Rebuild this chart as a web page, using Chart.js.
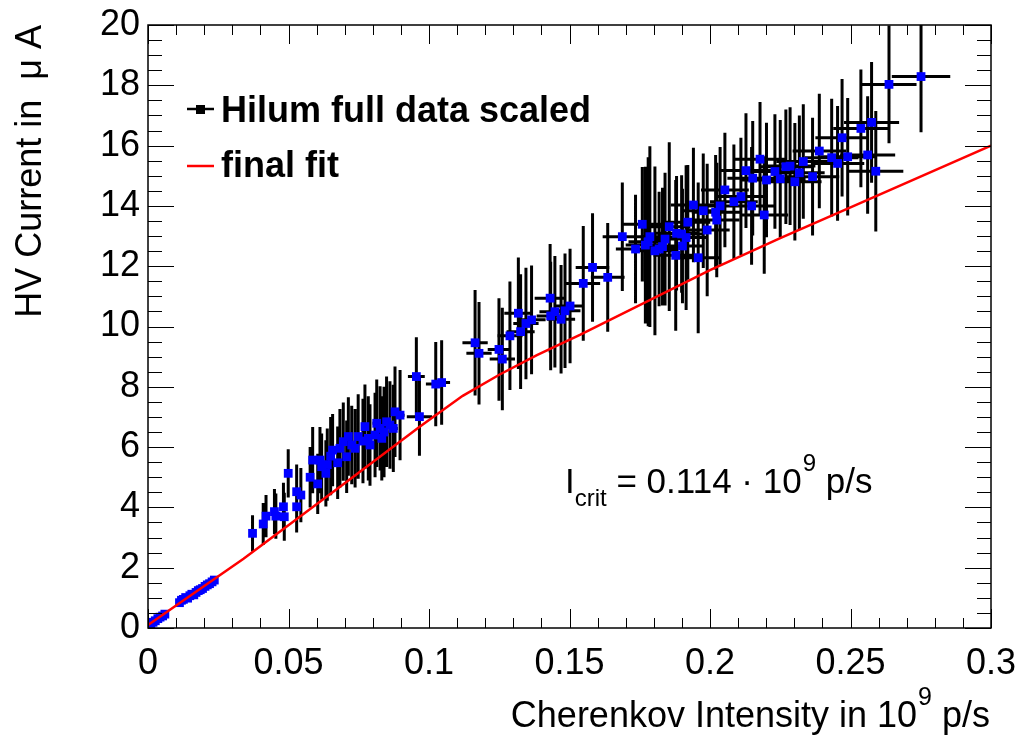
<!DOCTYPE html>
<html><head><meta charset="utf-8">
<script src="https://cdn.jsdelivr.net/npm/chart.js@4.4.1/dist/chart.umd.min.js"></script>
<style>html,body{margin:0;padding:0;background:#fff;}canvas{display:block;}</style>
</head><body>
<canvas id="c" width="1022" height="738"></canvas>
<script>
// ---- data ----
const xVals = [
 0.0010,0.0018,0.0026,0.0035,0.0043,0.0052,0.0060,
 0.0112,0.0119,0.0126,0.0134,0.0141,0.0149,0.0156,0.0163,0.0171,0.0179,0.0186,0.0194,0.0203,0.0211,0.0219,0.0228,0.0236,
 0.0372,0.0410,0.0420,0.0450,0.0455,0.0482,0.0485,0.0499,0.0529,0.0529,0.0544,0.0577,0.0586,0.0604,0.0612,0.0618,0.0633,0.0638,0.0657,0.0675,0.0683,0.0695,0.0707,0.0713,0.0725,0.0737,0.0748,0.0772,0.0784,0.0790,0.0808,0.0814,0.0826,0.0832,0.0849,0.0861,0.0873,0.0879,0.0897,0.0650,0.0765,0.0840,
 0.0955,0.0966,0.1024,0.1045,0.1164,0.1178,0.1249,0.1261,0.1288,0.1318,0.1326,0.1345,0.1365,0.1431,0.1433,0.1448,0.1470,0.1484,0.1502,0.1549,0.1582,0.1636,
 0.1688,0.1735,0.1759,0.1780,0.1786,0.1804,0.1819,0.1831,0.1855,0.1878,0.1881,0.1899,0.1902,0.1921,0.1941,0.1958,0.1976,0.2020,0.2024,0.2036,0.2053,0.2085,0.2110,0.2128,0.2148,0.2152,0.2178,0.2193,0.2201,0.2231,0.2250,0.2270,0.2285,0.2302,0.2318,0.2332,0.2365,0.2389,0.2433,0.2454,0.2470,0.2490,0.2537,0.2561,0.2575,0.2590,0.2637,0.2751,0.1770,0.1840,0.1915,0.1990
];
const yVals = [
 0.12,0.19,0.24,0.31,0.36,0.40,0.46,
 0.84,0.92,0.95,1.01,0.99,1.07,1.12,1.10,1.18,1.24,1.27,1.31,1.38,1.43,1.47,1.53,1.59,
 3.14,3.45,3.71,3.86,3.71,4.02,3.69,5.13,4.02,4.52,4.41,5.00,5.57,4.78,5.57,5.35,5.13,5.42,5.90,5.48,5.96,6.18,5.68,6.35,6.07,5.96,6.35,6.68,6.29,6.07,6.40,6.79,6.62,6.29,6.84,6.73,6.62,7.17,7.06,5.70,6.20,6.50,
 8.34,7.01,8.09,8.14,9.46,9.11,9.24,8.92,9.69,10.44,9.83,10.10,10.22,10.94,10.35,10.49,10.24,10.52,10.68,11.43,11.96,11.63,
 12.98,12.57,13.39,12.81,12.98,12.51,12.57,12.65,13.31,12.36,13.09,13.07,12.67,13.46,14.03,12.28,13.84,13.79,13.53,14.00,14.53,14.14,14.31,15.17,14.00,14.92,15.55,13.70,14.86,15.14,14.90,15.30,15.32,14.80,15.10,15.47,14.97,15.82,15.60,15.41,16.26,15.63,16.57,15.69,16.77,15.15,18.03,18.29,12.70,12.90,12.95,13.20
];
const xErrs = [
 0.0003,0.0003,0.0003,0.0003,0.0003,0.0003,0.0003,
 0.0005,0.0005,0.0005,0.0005,0.0005,0.0005,0.0005,0.0005,0.0005,0.0005,0.0005,0.0005,0.0005,0.0005,0.0005,0.0005,0.0005,
 0.0008,0.0008,0.0008,0.0009,0.0009,0.0009,0.0009,0.0010,0.0010,0.0010,0.0010,0.0010,0.0011,0.0011,0.0011,0.0011,0.0011,0.0012,0.0012,0.0012,0.0012,0.0012,0.0013,0.0013,0.0013,0.0013,0.0013,0.0014,0.0014,0.0014,0.0014,0.0015,0.0015,0.0015,0.0015,0.0016,0.0016,0.0016,0.0016,0.0012,0.0014,0.0015,
 0.0030,0.0045,0.0035,0.0030,0.0045,0.0045,0.0040,0.0045,0.0045,0.0050,0.0050,0.0045,0.0050,0.0055,0.0050,0.0055,0.0050,0.0055,0.0050,0.0060,0.0060,0.0060,
 0.0070,0.0070,0.0075,0.0070,0.0070,0.0075,0.0070,0.0075,0.0075,0.0080,0.0075,0.0080,0.0075,0.0080,0.0080,0.0080,0.0080,0.0085,0.0080,0.0085,0.0085,0.0085,0.0090,0.0090,0.0085,0.0090,0.0090,0.0085,0.0090,0.0090,0.0090,0.0090,0.0090,0.0095,0.0090,0.0095,0.0095,0.0095,0.0095,0.0095,0.0095,0.0095,0.0098,0.0098,0.0098,0.0098,0.0098,0.0104,0.0070,0.0075,0.0080,0.0080
];
const yErrs = [
 0.05,0.05,0.05,0.05,0.05,0.05,0.05,
 0.10,0.10,0.10,0.10,0.10,0.10,0.10,0.10,0.10,0.10,0.10,0.10,0.10,0.10,0.10,0.10,0.10,
 0.60,0.70,0.70,0.75,0.75,0.80,0.80,0.80,0.85,0.90,0.90,1.00,1.10,1.00,1.10,1.10,1.10,1.20,1.20,1.20,1.30,1.30,1.20,1.30,1.30,1.30,1.40,1.40,1.40,1.35,1.40,1.45,1.40,1.40,1.50,1.45,1.45,1.50,1.50,1.30,1.40,1.50,
 1.30,1.30,1.40,1.40,1.75,1.70,1.70,1.70,1.80,1.85,1.90,1.85,1.80,1.80,1.80,1.85,1.80,1.90,1.90,1.90,1.80,1.80,
 1.80,1.80,1.90,2.80,3.00,2.80,1.90,1.95,2.80,2.50,1.90,1.95,1.90,1.90,1.90,2.50,1.90,1.90,1.90,1.95,1.90,1.90,1.95,1.90,1.95,1.90,1.90,1.95,1.90,1.90,1.95,1.90,1.95,1.95,1.90,1.90,1.95,1.90,1.95,1.90,1.95,1.95,1.95,1.95,2.00,2.00,1.95,1.85,2.60,2.20,2.40,2.20
];
const fitX = [0, 0.034, 0.070, 0.0968, 0.112, 0.125, 0.1384, 0.1537, 0.200, 0.225, 0.250, 0.300];
const fitY = [0.10, 2.30, 4.80, 6.68, 7.70, 8.40, 9.05, 9.72, 11.87, 12.93, 13.95, 16.00];
const xTickValues = [0, 0.05, 0.1, 0.15, 0.2, 0.25, 0.3];
const xTickLabels = ['0', '0.05', '0.1', '0.15', '0.2', '0.25', '0.3'];
const yTickValues = [0, 2, 4, 6, 8, 10, 12, 14, 16, 18, 20];
const yTickLabels = ['0', '2', '4', '6', '8', '10', '12', '14', '16', '18', '20'];
const seriesName = 'Hilum full data scaled';
const fitName = 'final fit';

const FONT = '"Liberation Sans", Arial, Helvetica, sans-serif';

const rootPlugin = {
  id: 'rootStyle',
  beforeDatasetsDraw(chart) {
    const ctx = chart.ctx, xs = chart.scales.x, ys = chart.scales.y, a = chart.chartArea;
    ctx.save();
    ctx.beginPath(); ctx.rect(a.left, a.top, a.right - a.left, a.bottom - a.top); ctx.clip();
    ctx.strokeStyle = '#000'; ctx.lineWidth = 3;
    ctx.beginPath();
    for (let i = 0; i < xVals.length; i++) {
      const px = xs.getPixelForValue(xVals[i]);
      const py = ys.getPixelForValue(yVals[i]);
      ctx.moveTo(px, ys.getPixelForValue(yVals[i] - yErrs[i]));
      ctx.lineTo(px, ys.getPixelForValue(yVals[i] + yErrs[i]));
      ctx.moveTo(xs.getPixelForValue(xVals[i] - xErrs[i]), py);
      ctx.lineTo(xs.getPixelForValue(xVals[i] + xErrs[i]), py);
    }
    ctx.stroke();
    ctx.restore();
  },
  afterDraw(chart) {
    const ctx = chart.ctx, xs = chart.scales.x, ys = chart.scales.y, a = chart.chartArea;
    ctx.save();
    // frame
    ctx.strokeStyle = '#000'; ctx.lineWidth = 1.5;
    ctx.strokeRect(a.left, a.top, a.right - a.left, a.bottom - a.top);
    // ticks
    ctx.lineWidth = 1;
    ctx.beginPath();
    for (let k = 0; k <= 30; k++) {
      const v = k * 0.01;
      const major = k % 5 === 0;
      const L = major ? 19 : 10;
      const px = Math.round(xs.getPixelForValue(v)) + 0.5;
      ctx.moveTo(px, a.bottom); ctx.lineTo(px, a.bottom - L);
      ctx.moveTo(px, a.top); ctx.lineTo(px, a.top + L);
    }
    for (let k = 0; k <= 40; k++) {
      const v = k * 0.5;
      const major = k % 4 === 0;
      const L = major ? 26 : 14;
      const py = Math.round(ys.getPixelForValue(v)) + 0.5;
      ctx.moveTo(a.left, py); ctx.lineTo(a.left + L, py);
      ctx.moveTo(a.right, py); ctx.lineTo(a.right - L, py);
    }
    ctx.stroke();

    // legend
    ctx.strokeStyle = '#000'; ctx.lineWidth = 2.5;
    ctx.beginPath(); ctx.moveTo(187, 109); ctx.lineTo(214, 109); ctx.stroke();
    ctx.fillStyle = '#000'; ctx.fillRect(196, 105, 9, 9);
    ctx.strokeStyle = '#ff0000'; ctx.lineWidth = 2.5;
    ctx.beginPath(); ctx.moveTo(187, 166); ctx.lineTo(214, 166); ctx.stroke();
    ctx.fillStyle = '#000';
    ctx.textAlign = 'left'; ctx.textBaseline = 'alphabetic';
    ctx.font = 'bold 36px ' + FONT;
    ctx.fillText(seriesName, 221, 122);
    ctx.fillText(fitName, 221, 177);

    // I_crit annotation
    let x = 565;
    const big = '35px ' + FONT, small = '24px ' + FONT;
    ctx.font = big; ctx.fillText('I', x, 493); x += ctx.measureText('I').width;
    ctx.font = small; ctx.fillText('crit', x, 506); x += ctx.measureText('crit').width;
    ctx.font = big; const s1 = ' = 0.114 \u00b7 10'; ctx.fillText(s1, x, 493); x += ctx.measureText(s1).width;
    ctx.font = small; ctx.fillText('9', x + 1, 471); x += ctx.measureText('9').width + 1;
    ctx.font = big; ctx.fillText(' p/s', x, 493);

    // x-axis title (right aligned)
    const tA = 'Cherenkov Intensity in 10', tB = '9', tC = ' p/s';
    const tbig = '36px ' + FONT, tsmall = '25px ' + FONT;
    ctx.font = tbig; const wA = ctx.measureText(tA).width, wC = ctx.measureText(tC).width;
    ctx.font = tsmall; const wB = ctx.measureText(tB).width + 1;
    let tx = 990 - (wA + wB + wC);
    ctx.font = tbig; ctx.fillText(tA, tx, 727); tx += wA;
    ctx.font = tsmall; ctx.fillText(tB, tx + 1, 705); tx += wB;
    ctx.font = tbig; ctx.fillText(tC, tx, 727);

    // y-axis title (rotated, right aligned to top)
    ctx.translate(41, 25); ctx.rotate(-Math.PI / 2);
    ctx.textAlign = 'right'; ctx.font = '36px ' + FONT;
    ctx.fillText('HV Current in  \u03bc A', 0, 0);
    ctx.restore();
  }
};

const chart = new Chart(document.getElementById('c'), {
  type: 'scatter',
  data: {
    datasets: [
      {
        label: fitName,
        data: fitX.map((v, i) => ({ x: v, y: fitY[i] })),
        showLine: true, borderColor: '#ff0000', borderWidth: 2.5,
        pointRadius: 0, tension: 0, fill: false
      },
      {
        label: seriesName,
        data: xVals.map((v, i) => ({ x: v, y: yVals[i] })),
        pointStyle: 'rect', pointRadius: 6.2, borderWidth: 0,
        backgroundColor: '#0000ff', borderColor: '#0000ff'
      }
    ]
  },
  options: {
    responsive: false, animation: false, devicePixelRatio: 1,
    layout: { padding: { left: 0, top: 25, right: 31, bottom: 0 } },
    plugins: { legend: { display: false }, tooltip: { enabled: false } },
    scales: {
      x: {
        type: 'linear', min: 0, max: 0.3,
        grid: { display: false, drawTicks: false }, border: { display: false },
        afterBuildTicks: s => { s.ticks = xTickValues.map(v => ({ value: v })); },
        afterFit: s => { s.height = 110; s.paddingLeft = 0; s.paddingRight = 0; },
        ticks: { padding: 14, color: '#000', font: { family: FONT, size: 36 }, maxRotation: 0, autoSkip: false,
          callback: (v, i) => xTickLabels[i] }
      },
      y: {
        type: 'linear', min: 0, max: 20,
        grid: { display: false, drawTicks: false }, border: { display: false },
        afterBuildTicks: s => { s.ticks = yTickValues.map(v => ({ value: v })); },
        afterFit: s => { s.width = 148; s.paddingTop = 0; s.paddingBottom = 0; },
        ticks: { padding: 8, color: '#000', font: { family: FONT, size: 36 }, autoSkip: false,
          callback: (v, i) => yTickLabels[i] }
      }
    }
  },
  plugins: [rootPlugin]
});
</script>
</body></html>
